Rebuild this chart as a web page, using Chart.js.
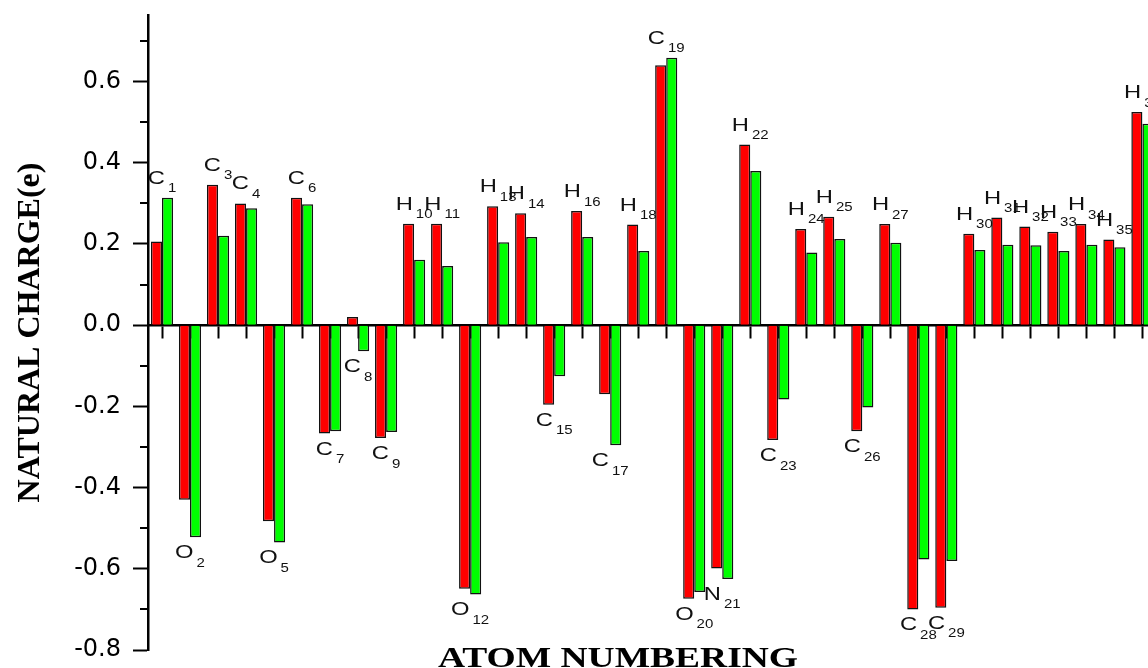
<!DOCTYPE html>
<html>
<head>
<meta charset="utf-8">
<script src="https://cdn.jsdelivr.net/npm/chart.js@4.4.1/dist/chart.umd.min.js"></script>
<style>
  html, body { margin: 0; padding: 0; background: #fff; overflow: hidden; }
  #wrap { width: 1148px; height: 668px; position: relative; }
</style>
</head>
<body>
<div id="wrap"><canvas id="chart"></canvas></div>
<script>
// Atoms in numbering order
const atomSymbols = ['C','O','C','C','O','C','C','C','C','H','H','O','H','H','C','H','C','H',
                     'C','O','N','H','C','H','H','C','H','C','C','H','H','H','H','H','H','H'];
const atomNumbers = [1,2,3,4,5,6,7,8,9,10,11,12,13,14,15,16,17,18,
                     19,20,21,22,23,24,25,26,27,28,29,30,31,32,33,34,35,36];

// Natural charges (e), red series and green series
const chargeRed = [0.206,-0.430,0.346,0.300,-0.483,0.314,-0.267,0.020,-0.278,0.250,0.250,-0.649,
                   0.293,0.276,-0.196,0.281,-0.170,0.248,0.640,-0.674,-0.599,0.445,-0.283,0.237,
                   0.267,-0.261,0.249,-0.700,-0.696,0.225,0.265,0.243,0.230,0.249,0.211,0.525];
const chargeGreen = [0.314,-0.522,0.220,0.288,-0.535,0.298,-0.261,-0.064,-0.263,0.161,0.146,-0.663,
                     0.204,0.217,-0.126,0.217,-0.296,0.183,0.659,-0.657,-0.625,0.380,-0.183,0.179,
                     0.212,-0.203,0.203,-0.577,-0.581,0.185,0.198,0.197,0.183,0.198,0.192,0.496];

// Minor tick positions on the charge axis
const minorTicks = [-0.7,-0.5,-0.3,-0.1,0.1,0.3,0.5,0.7];

const TEXT_STRETCH = 1.25;

function fillStretched(ctx, text, px, py, stretch) {
  ctx.save();
  ctx.translate(px, py);
  ctx.scale(stretch, 1);
  ctx.fillText(text, 0, 0);
  ctx.restore();
}

// Minor ticks on the left axis
const minorTickPlugin = {
  id: 'minorTicks',
  afterDraw(chart) {
    const { ctx, scales: { y }, chartArea } = chart;
    ctx.save();
    ctx.strokeStyle = '#000';
    ctx.lineWidth = 2;
    minorTicks.forEach(v => {
      const py = Math.round(y.getPixelForValue(v));
      ctx.beginPath();
      ctx.moveTo(chartArea.left - 8, py);
      ctx.lineTo(chartArea.left, py);
      ctx.stroke();
    });
    ctx.restore();
  }
};

// Atom labels with subscript numbers, placed beyond the longer bar of each pair
const atomLabelPlugin = {
  id: 'atomLabels',
  afterDatasetsDraw(chart) {
    const { ctx, scales: { x, y } } = chart;
    const mainFont = '19px "Liberation Sans", Arial, sans-serif';
    const subFont = '12px "Liberation Sans", Arial, sans-serif';
    ctx.save();
    ctx.fillStyle = '#111';
    ctx.textAlign = 'left';
    ctx.textBaseline = 'alphabetic';
    atomSymbols.forEach((sym, i) => {
      const a = chargeRed[i], b = chargeGreen[i];
      const up = a + b > 0;
      const edge = y.getPixelForValue(up ? Math.max(a, b) : Math.min(a, b));
      const cx = x.getPixelForValue(atomNumbers[i]);
      const sub = String(atomNumbers[i]);
      ctx.font = mainFont;
      const wMain = ctx.measureText(sym).width * TEXT_STRETCH;
      ctx.font = subFont;
      const wSub = ctx.measureText(sub).width * TEXT_STRETCH;
      const gap = 3;
      const left = cx - (wMain + gap + wSub) / 2;
      const base = up ? edge - 14 : edge + 21;
      ctx.font = mainFont;
      fillStretched(ctx, sym, left, base, TEXT_STRETCH);
      ctx.font = subFont;
      fillStretched(ctx, sub, left + wMain + gap, base + 8.5, TEXT_STRETCH);
    });
    ctx.restore();
  }
};

// Horizontal axis title at the foot of the plot
const xTitlePlugin = {
  id: 'xTitle',
  afterDraw(chart) {
    const { ctx } = chart;
    ctx.save();
    ctx.fillStyle = '#000';
    ctx.font = 'bold 30px "Liberation Serif", "Times New Roman", serif';
    const text = 'ATOM NUMBERING';
    const w = ctx.measureText(text).width * TEXT_STRETCH;
    fillStretched(ctx, text, 618 - w / 2, 667, TEXT_STRETCH);
    ctx.restore();
  }
};

new Chart(document.getElementById('chart'), {
  type: 'bar',
  data: {
    labels: atomNumbers,
    datasets: [
      { data: chargeRed, backgroundColor: '#ff0000', borderColor: '#111', borderWidth: 1.5 },
      { data: chargeGreen, backgroundColor: '#00ff00', borderColor: '#111', borderWidth: 1.5 }
    ]
  },
  options: {
    responsive: true,
    maintainAspectRatio: false,
    animation: false,
    datasets: { bar: { categoryPercentage: 0.79, barPercentage: 1.0 } },
    layout: { padding: { left: 8, top: 15, right: 0, bottom: 18 } },
    plugins: { legend: { display: false }, tooltip: { enabled: false } },
    scales: {
      x: {
        type: 'linear',
        min: 0.5,
        max: 36.2,
        offset: false,
        position: { y: 0 },
        afterFit(s) { s.paddingLeft = 0; s.paddingRight = 0; },
        border: { color: '#000', width: 2.5 },
        grid: { offset: false, drawOnChartArea: false, tickLength: 12, tickWidth: 2, tickColor: '#000' },
        ticks: { display: false, stepSize: 1, includeBounds: false }
      },
      y: {
        min: -0.8,
        max: 0.764,
        afterFit(s) { s.width = 140; s.paddingTop = 0; s.paddingBottom = 0; },
        border: { color: '#000', width: 2.5 },
        grid: { drawOnChartArea: false, tickLength: 15, tickWidth: 2, tickColor: '#000' },
        ticks: {
          stepSize: 0.2,
          includeBounds: false,
          padding: 12,
          color: '#000',
          font: { family: '"DejaVu Sans", sans-serif', size: 24 },
          callback: v => Number(v).toFixed(1)
        },
        title: {
          display: true,
          text: 'NATURAL CHARGE(e)',
          color: '#000',
          font: { family: '"Liberation Serif", "Times New Roman", serif', size: 32, weight: 'bold' },
          padding: { top: 4, bottom: 4 }
        }
      }
    }
  },
  plugins: [minorTickPlugin, atomLabelPlugin, xTitlePlugin]
});
</script>
</body>
</html>
